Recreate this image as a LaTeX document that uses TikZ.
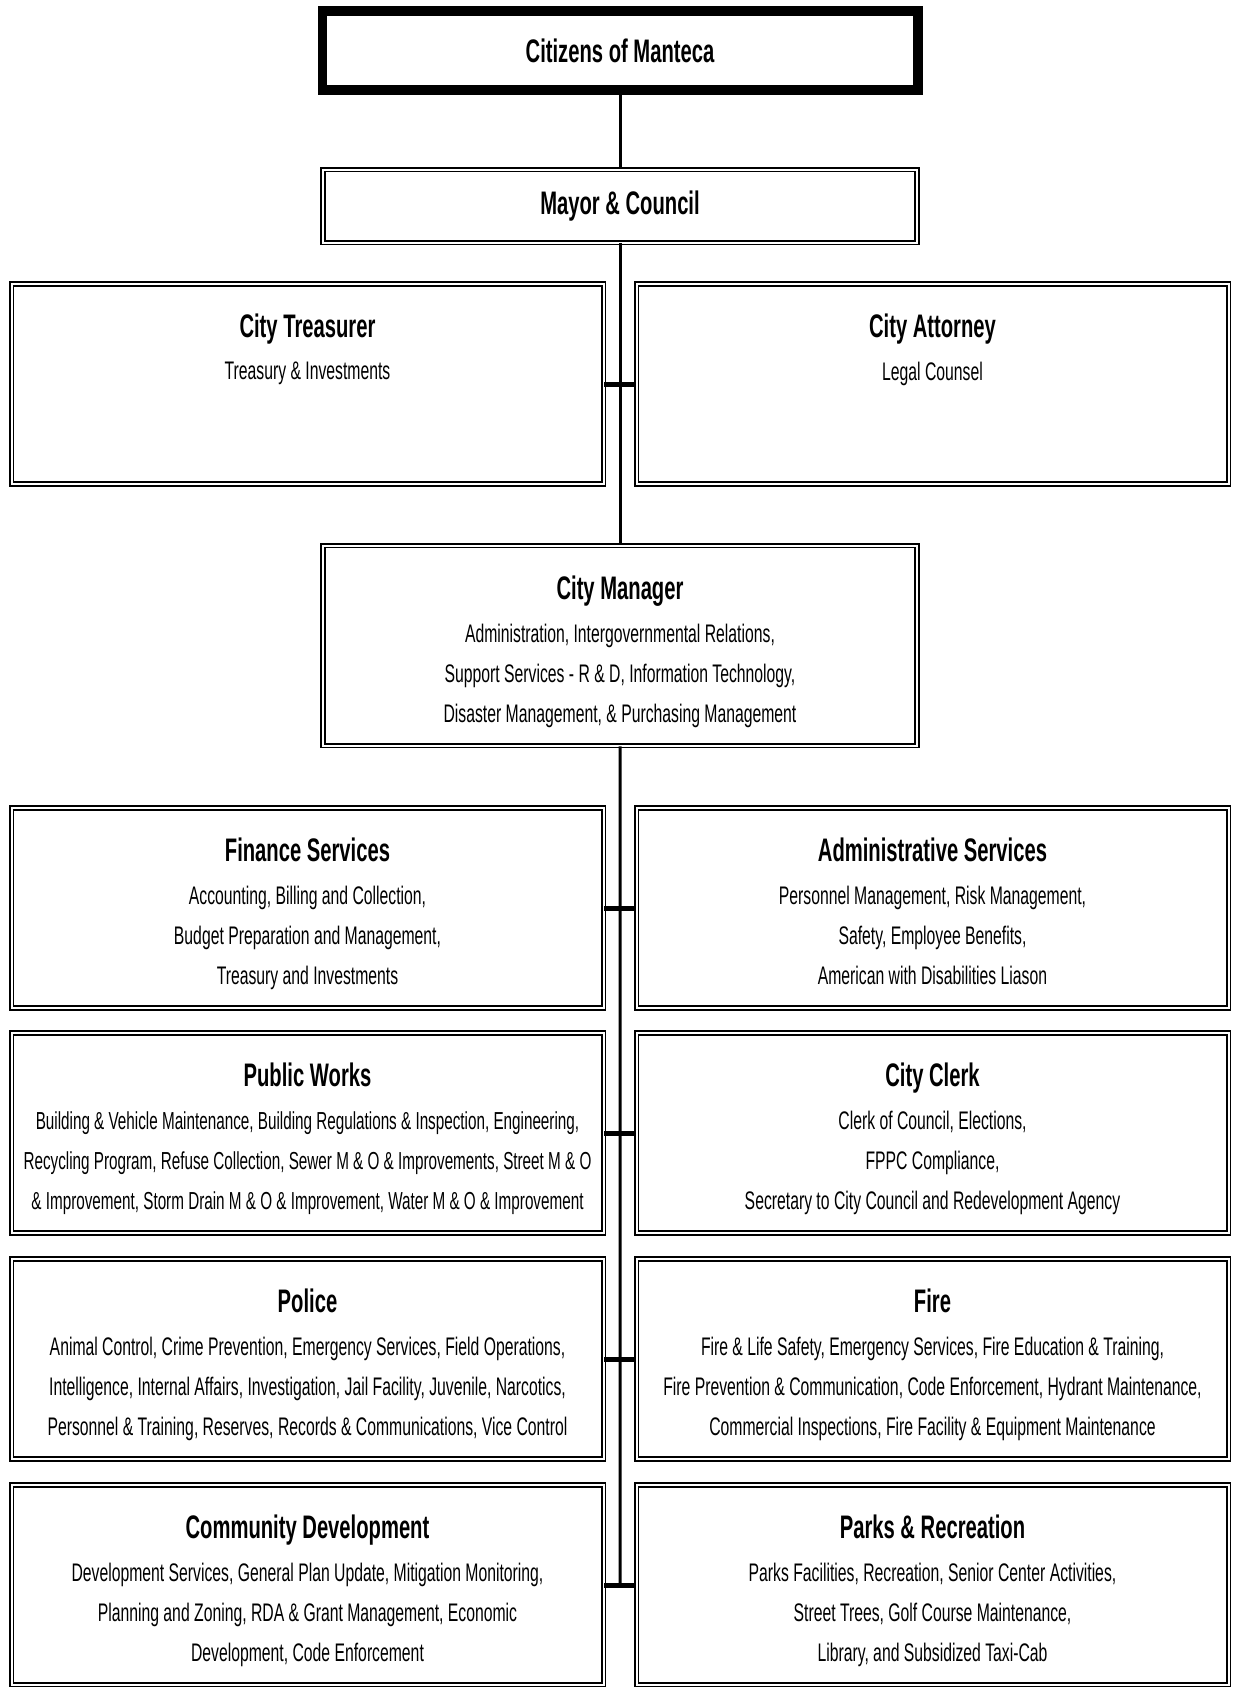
\documentclass[tikz,border=0pt]{standalone}
\usepackage{fontspec}
\setmainfont{Liberation Sans}[FakeStretch=0.62]
\usetikzlibrary{calc,positioning}

\begin{document}
\begin{tikzpicture}[x=1pt,y=-1pt,
	dbox/.style={draw,line width=1.6pt,double=white,double distance=2pt,inner sep=0pt,minimum width=592pt,minimum height=200pt},
	ttl/.style={inner sep=0pt,font=\fontsize{32.6}{36}\selectfont\bfseries},
	body/.style={inner sep=0pt,align=center,font=\fontsize{25.4}{40}\selectfont},
	conn/.style={line width=3pt},
	tick/.style={line width=5pt}]
	\useasboundingbox[fill=white] (0,0) rectangle (1233,1687);
	% top of the chart
	\node[ttl,draw,line width=9pt,minimum width=596pt,minimum height=80pt] (citizens) at (620,50.5) {Citizens of Manteca};
	\draw[line width=1.5pt] ([shift={(9,9)}]citizens.north west) rectangle ([shift={(-9,-9)}]citizens.south east);
	\node[dbox,ttl,minimum width=594pt,minimum height=73pt] (mayor) at (620,206) {Mayor \& Council};
	\node[dbox] (treas) at (307.5,384) {};
	\node[dbox] (atty) at (932.5,384) {};
	\node[dbox,minimum width=594pt] (mgr) at (620,645.5) {};
	% departments
	\node[dbox] (fin) at (307.5,908) {};
	\node[dbox] (adm) at (932.5,908) {};
	\node[dbox] (pw) at (307.5,1133) {};
	\node[dbox] (clerk) at (932.5,1133) {};
	\node[dbox] (police) at (307.5,1359) {};
	\node[dbox] (fire) at (932.5,1359) {};
	\node[dbox] (cdev) at (307.5,1585) {};
	\node[dbox] (parks) at (932.5,1585) {};
	% titles
	\foreach \b/\t in {treas/City Treasurer,atty/City Attorney,mgr/City Manager,fin/Finance Services,adm/Administrative Services,pw/Public Works,clerk/City Clerk,police/Police,fire/Fire,cdev/Community Development,parks/Parks \& Recreation}
		\node[ttl,anchor=base] (\b T) at ([yshift=-54.5pt]\b.north) {\t};
	% duties
	\node[body,below=79pt of treas.north] (treasB) {Treasury \& Investments};
	\node[body,below=79pt of atty.north] (attyB) {Legal Counsel};
	\node[body,below=79pt of mgr.north] (mgrB) {Administration, Intergovernmental Relations,\\Support Services - R \& D, Information Technology,\\Disaster Management, \& Purchasing Management};
	\node[body,below=79pt of fin.north] (finB) {Accounting, Billing and Collection,\\Budget Preparation and Management,\\Treasury and Investments};
	\node[body,below=79pt of adm.north] (admB) {Personnel Management, Risk Management,\\Safety, Employee Benefits,\\American with Disabilities Liason};
	\node[body,font=\fontsize{24.6}{40}\selectfont,below=79pt of pw.north] (pwB) {Building \& Vehicle Maintenance, Building Regulations \& Inspection, Engineering,\\Recycling Program, Refuse Collection, Sewer M \& O \& Improvements, Street M \& O\\\& Improvement, Storm Drain M \& O \& Improvement, Water M \& O \& Improvement};
	\node[body,below=79pt of clerk.north] (clerkB) {Clerk of Council, Elections,\\FPPC Compliance,\\Secretary to City Council and Redevelopment Agency};
	\node[body,below=79pt of police.north] (policeB) {Animal Control, Crime Prevention, Emergency Services, Field Operations,\\Intelligence, Internal Affairs, Investigation, Jail Facility, Juvenile, Narcotics,\\Personnel \& Training, Reserves, Records \& Communications, Vice Control};
	\node[body,below=79pt of fire.north] (fireB) {Fire \& Life Safety, Emergency Services, Fire Education \& Training,\\Fire Prevention \& Communication, Code Enforcement, Hydrant Maintenance,\\Commercial Inspections, Fire Facility \& Equipment Maintenance};
	\node[body,below=79pt of cdev.north] (cdevB) {Development Services, General Plan Update, Mitigation Monitoring,\\Planning and Zoning, RDA \& Grant Management, Economic\\Development, Code Enforcement};
	\node[body,below=79pt of parks.north] (parksB) {Parks Facilities, Recreation, Senior Center Activities,\\Street Trees, Golf Course Maintenance,\\Library, and Subsidized Taxi-Cab};
	% connectors
	\coordinate (last) at ($(cdev.east)!0.5!(parks.west)$);
	\draw[conn] (citizens.south) -- (mayor.north);
	\draw[conn] (mayor.south) -- (mgr.north);
	\draw[conn] (mgr.south) -- (last);
	\foreach \l/\r in {treas/atty,fin/adm,pw/clerk,police/fire,cdev/parks}
		\draw[tick] (\l.east) -- (\r.west);
\end{tikzpicture}
\end{document}
